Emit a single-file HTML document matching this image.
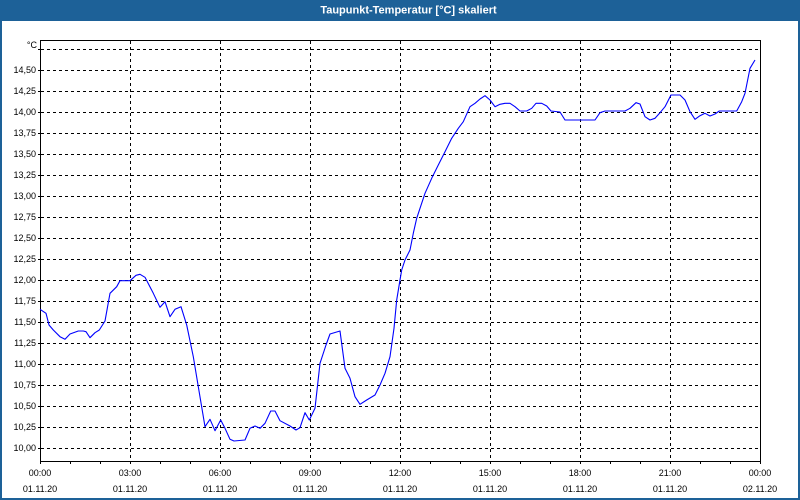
<!DOCTYPE html>
<html><head><meta charset="utf-8"><style>
html,body{margin:0;padding:0;background:#fff;}
svg{display:block;}
text{font-family:"Liberation Sans",Arial,sans-serif;}
</style></head><body>
<svg width="800" height="500" viewBox="0 0 800 500" xmlns="http://www.w3.org/2000/svg">
<rect x="0" y="0" width="800" height="500" fill="#1d6198"/>
<rect x="2" y="21" width="796" height="477" fill="#ffffff"/>
<text x="408.5" y="13.5" fill="#ffffff" font-size="11" font-weight="bold" text-anchor="middle">Taupunkt-Temperatur [°C] skaliert</text>
<g stroke="#000" stroke-width="1" stroke-dasharray="3,3" shape-rendering="crispEdges" fill="none">
<path d="M41 49.5H760M41 70.5H760M41 91.5H760M41 112.5H760M41 133.5H760M41 154.5H760M41 175.5H760M41 196.5H760M41 217.5H760M41 238.5H760M41 259.5H760M41 280.5H760M41 301.5H760M41 322.5H760M41 343.5H760M41 364.5H760M41 385.5H760M41 406.5H760M41 427.5H760M41 448.5H760"/>
<path d="M130.5 41V461M220.5 41V461M310.5 41V461M400.5 41V461M490.5 41V461M580.5 41V461M670.5 41V461"/>
</g>
<g stroke="#000" stroke-width="1" shape-rendering="crispEdges" fill="none">
<rect x="40.5" y="40.5" width="720" height="421"/>
<path d="M40.5 461V464M70.5 461V464M100.5 461V464M130.5 461V464M160.5 461V464M190.5 461V464M220.5 461V464M250.5 461V464M280.5 461V464M310.5 461V464M340.5 461V464M370.5 461V464M400.5 461V464M430.5 461V464M460.5 461V464M490.5 461V464M520.5 461V464M550.5 461V464M580.5 461V464M610.5 461V464M640.5 461V464M670.5 461V464M700.5 461V464M730.5 461V464M760.5 461V464"/>
<path d="M38 49.5H40M38 70.5H40M38 91.5H40M38 112.5H40M38 133.5H40M38 154.5H40M38 175.5H40M38 196.5H40M38 217.5H40M38 238.5H40M38 259.5H40M38 280.5H40M38 301.5H40M38 322.5H40M38 343.5H40M38 364.5H40M38 385.5H40M38 406.5H40M38 427.5H40M38 448.5H40"/>
</g>
<g font-size="9" fill="#000" text-anchor="end">
<text x="37" y="48">°C</text>
<text x="36" y="73">14,50</text>
<text x="36" y="94">14,25</text>
<text x="36" y="115">14,00</text>
<text x="36" y="136">13,75</text>
<text x="36" y="157">13,50</text>
<text x="36" y="178">13,25</text>
<text x="36" y="199">13,00</text>
<text x="36" y="220">12,75</text>
<text x="36" y="241">12,50</text>
<text x="36" y="262">12,25</text>
<text x="36" y="283">12,00</text>
<text x="36" y="304">11,75</text>
<text x="36" y="325">11,50</text>
<text x="36" y="346">11,25</text>
<text x="36" y="367">11,00</text>
<text x="36" y="388">10,75</text>
<text x="36" y="409">10,50</text>
<text x="36" y="430">10,25</text>
<text x="36" y="451">10,00</text>
</g>
<g font-size="9" fill="#000" text-anchor="middle">
<text x="40" y="476">00:00</text><text x="40" y="492">01.11.20</text>
<text x="130" y="476">03:00</text><text x="130" y="492">01.11.20</text>
<text x="220" y="476">06:00</text><text x="220" y="492">01.11.20</text>
<text x="310" y="476">09:00</text><text x="310" y="492">01.11.20</text>
<text x="400" y="476">12:00</text><text x="400" y="492">01.11.20</text>
<text x="490" y="476">15:00</text><text x="490" y="492">01.11.20</text>
<text x="580" y="476">18:00</text><text x="580" y="492">01.11.20</text>
<text x="670" y="476">21:00</text><text x="670" y="492">01.11.20</text>
<text x="760" y="476">00:00</text><text x="760" y="492">02.11.20</text>
</g>
<polyline fill="none" stroke="#0000ff" stroke-width="1.1" stroke-linejoin="round" points="40,309.3 46,313.3 49,325 53.3,330 60,336.7 65,339.3 70,334 78.3,331 83.3,331 86,331.7 90,337.7 95,332.7 99.3,330 105,321 110,293.3 116.7,286.7 120,280.7 130,280.7 136,275.3 140,274.3 145,277.3 153.3,293.3 160,307.3 165,301.7 170,316.7 175,309.3 181,306.7 186.7,325 193.3,356.7 198.3,386.7 205,426.7 210,419.3 215,430.7 220.7,420 225,428.3 230,439.3 234,441 245,440 250,428.3 255,426 260,428.3 265,423.3 270.7,411 275,411 280,420.7 290,426 296,430 300,427.7 305,412.7 309.3,420 315,408.3 320,363.3 326,345 330,334 340,331 345,368.3 350,378.3 355,396.7 360,404.3 366.7,400 375,395 380,385 385,373.3 390,356.7 394,328.3 396.7,300 400,280 401.7,270 405,260 410,250 413.3,233.3 416.7,218.3 420,208.3 425,193.3 431.7,178.3 438.3,165 445,151.7 451.7,138.3 458.3,128.3 463.3,121.7 470,106.7 475,103.3 480,99 485,95.7 490,100 495,106.7 500,104.3 505,103.3 510,103.3 515,106.7 520,111 526.7,111 531.7,108.3 536,103.3 541.7,103.3 546.7,106 551,111 560,112 565,120 595,120 600,112.7 605,111 625,111 630,108.3 636,102.7 640,104 645,116.7 650,120 655,118.3 660,112.7 665,106.7 671,95 680,95 685,100 690,111.7 695,119.3 700,115.7 705,113.3 710,116 715,114 719.3,111 736.7,111 741.7,101.7 745,93.3 750,68.3 755,60"/>
</svg>
</body></html>
